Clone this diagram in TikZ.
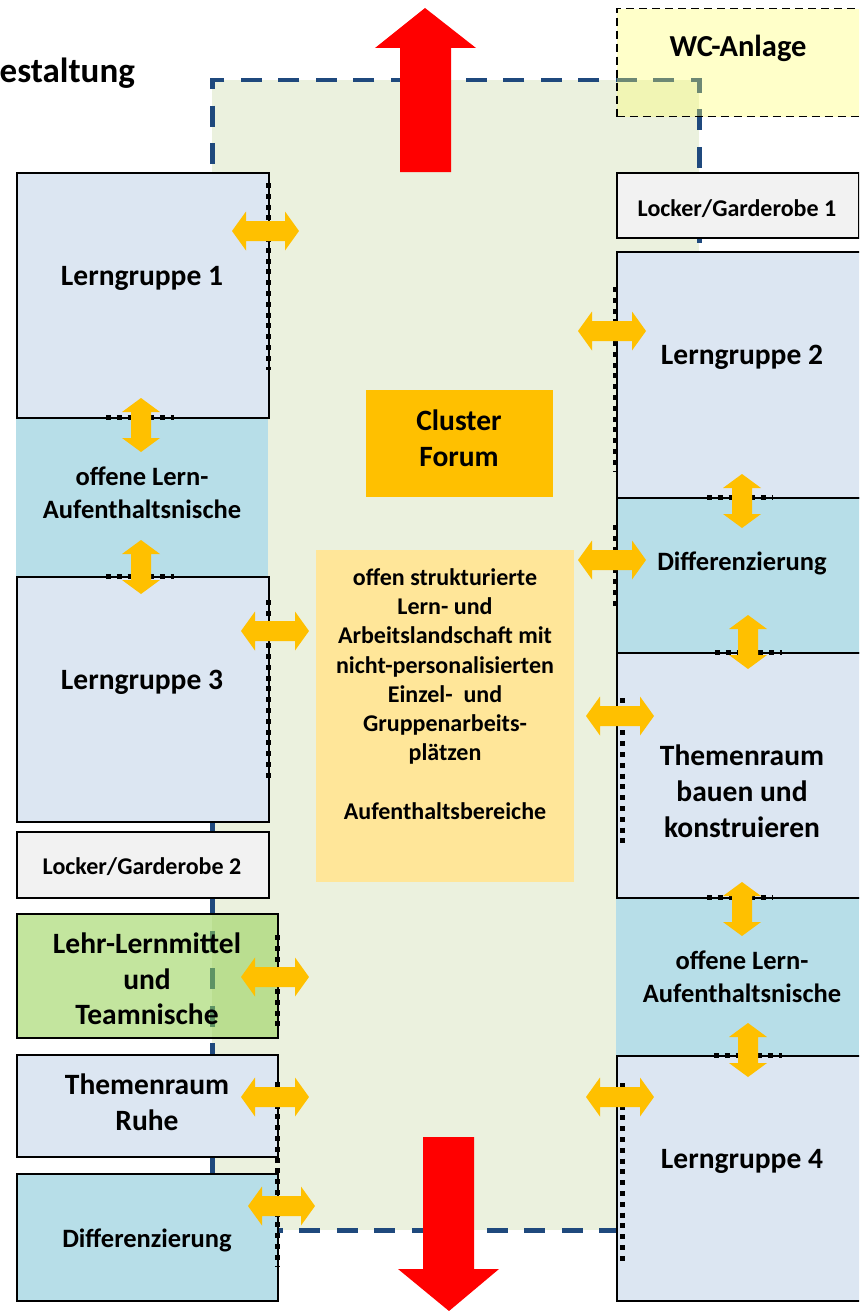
\documentclass[tikz,border=0pt]{standalone}
\usepackage{fontspec}
\setmainfont{Carlito}
\definecolor{bgGreen}{HTML}{EBF1DE}
\definecolor{dashBlue}{HTML}{1F497D}
\definecolor{roomBlue}{HTML}{DCE6F2}
\definecolor{nicheCyan}{HTML}{B7DEE8}
\definecolor{lockGrey}{HTML}{F2F2F2}
\definecolor{orangeA}{HTML}{FFC000}
\definecolor{centerY}{HTML}{FFE699}
\definecolor{teamGreen}{HTML}{92D050}
\definecolor{wcYellow}{HTML}{FFFF66}
\newcommand{\dHarrow}[3]{\fill[orangeA] (#1,#3) -- ({#1+14},{#3-19.5}) -- ({#1+14},{#3-10}) -- ({#2-14},{#3-10}) -- ({#2-14},{#3-19.5}) -- (#2,#3) -- ({#2-14},{#3+19.5}) -- ({#2-14},{#3+10}) -- ({#1+14},{#3+10}) -- ({#1+14},{#3+19.5}) -- cycle;}
\newcommand{\dVarrow}[3]{\fill[orangeA] (#1,#2) -- ({#1+19},{#2+14}) -- ({#1+10},{#2+14}) -- ({#1+10},{#3-14}) -- ({#1+19},{#3-14}) -- (#1,#3) -- ({#1-19},{#3-14}) -- ({#1-10},{#3-14}) -- ({#1-10},{#2+14}) -- ({#1-19},{#2+14}) -- cycle;}
\tikzset{
  box/.style={draw=black, line width=1.5pt, inner sep=0pt, anchor=north west},
  room/.style={box, fill=roomBlue},
  niche/.style={inner sep=0pt, anchor=north west, fill=nicheCyan},
  door/.style={draw=black, line width=5pt, dash pattern=on 5pt off 5.8pt},
  lbig/.style={font=\fontsize{29.5}{36}\selectfont\bfseries, align=center, inner sep=0pt},
  lmed/.style={font=\fontsize{26.5}{33}\selectfont\bfseries, align=center, inner sep=0pt},
  lsmall/.style={font=\fontsize{24}{29.2}\selectfont\bfseries, align=center, inner sep=0pt},
}
\begin{document}
\begin{tikzpicture}[x=1pt,y=-1pt]
\useasboundingbox (0,0) rectangle (859,1311);
\clip (0,0) rectangle (859,1311);
\fill[white] (0,0) rectangle (859,1311);
% cluster area
\node[fill=bgGreen, draw=dashBlue, line width=4.5pt, dash pattern=on 21pt off 16.5pt, dash phase=-12pt, inner sep=0pt, anchor=north west, minimum width=487pt, minimum height=1150pt] (area) at (210,78) {};
% left column
\node[niche, minimum width=252pt, minimum height=159pt] (nicheL) at (16,417) {};
\node[room, minimum width=252pt, minimum height=245pt] (lg1) at (16,172) {};
\node[room, minimum width=252pt, minimum height=245pt] (lg3) at (16,576) {};
\node[box, fill=lockGrey, minimum width=252pt, minimum height=66pt] (lock2) at (16,831) {};
\node[box, fill=teamGreen, fill opacity=0.55, minimum width=261pt, minimum height=124pt] (team) at (16,913) {};
\node[room, minimum width=261pt, minimum height=102pt] (ruhe) at (16,1054) {};
\node[box, fill=nicheCyan, minimum width=261pt, minimum height=127pt] (diffL) at (16,1173) {};
% right column
\node[box, draw=black, line width=1.5pt, dash pattern=on 8pt off 5pt, fill=wcYellow, fill opacity=0.35, minimum width=260pt, minimum height=108pt] (wc) at (616,8) {};
\node[box, fill=lockGrey, minimum width=242pt, minimum height=65pt] (lock1) at (616,172) {};
\node[niche, minimum width=243pt, minimum height=158pt] (nicheR) at (616,897) {};
\node[room, minimum width=250pt, minimum height=246pt] (lg2) at (616,251) {};
\node[box, fill=nicheCyan, minimum width=250pt, minimum height=155pt] (diffR) at (616,497) {};
\node[room, minimum width=250pt, minimum height=245pt] (themen) at (616,652) {};
\node[room, minimum width=250pt, minimum height=245pt] (lg4) at (616,1055) {};
% centre
\node[fill=orangeA, inner sep=0pt, anchor=north west, minimum width=187pt, minimum height=107pt] (forum) at (366,390) {};
\node[fill=centerY, inner sep=0pt, anchor=north west, minimum width=258pt, minimum height=332pt] (land) at (316,550) {};
% doors (dotted)
\draw[door] (268,183) -- (268,370);
\draw[door] (106,417) -- (174,417);
\draw[door] (106,576) -- (174,576);
\draw[door] (268,600) -- (268,783);
\draw[door] (277,935) -- (277,1027);
\draw[door] (277,1082) -- (277,1267);
\draw[door] (615,287) -- (615,472);
\draw[door] (615,525) -- (615,610);
\draw[door] (707,497) -- (773,497);
\draw[door] (715,652) -- (782,652);
\draw[door] (622,698) -- (622,847);
\draw[door] (707,897) -- (773,897);
\draw[door] (714,1055) -- (782,1055);
\draw[door] (622,1083) -- (622,1266);
% orange double arrows
\dHarrow{232}{299}{231}
\dHarrow{578}{646}{331}
\dHarrow{578}{646}{560}
\dHarrow{241}{309}{631}
\dHarrow{586}{654}{716}
\dHarrow{241}{309}{977}
\dHarrow{241}{309}{1097}
\dHarrow{248}{315}{1206}
\dHarrow{586}{654}{1097}
\dVarrow{141}{398}{452}
\dVarrow{141}{540}{594}
\dVarrow{742}{474}{528}
\dVarrow{748}{615}{669}
\dVarrow{742}{882}{936}
\dVarrow{748}{1023}{1077}
% red arrows
\fill[red] (425,8) -- (476,48) -- (451,48) -- (451,172) -- (400,172) -- (400,48) -- (375,48) -- cycle;
\fill[red] (449,1311) -- (499,1269) -- (474,1269) -- (474,1137) -- (423,1137) -- (423,1269) -- (398,1269) -- cycle;
% labels
\node[font=\fontsize{35}{40}\selectfont\bfseries, inner sep=0pt, anchor=east] (title) at (135,73) {estaltung};
\node[lbig, font=\fontsize{30.5}{36}\selectfont\bfseries] (twc) at (738,48) {WC-Anlage};
\node[lsmall] (tlock1) at (737,209) {Locker/Garderobe 1};
\node[lbig] (tlg1) at (142,278) {Lerngruppe 1};
\node[lbig] (tlg2) at (742,357) {Lerngruppe 2};
\node[lbig] (tforum) at (459,438) {Cluster\\Forum};
\node[lmed] (tnicheL) at (142,493) {offene Lern-\\Aufenthaltsnische};
\node[lmed] (tdiffR) at (742,563) {Differenzierung};
\node[lbig] (tlg3) at (142,682) {Lerngruppe 3};
\node[lbig] (tthemen) at (742,791) {Themenraum\\bauen und\\konstruieren};
\node[lsmall] (tland) at (445,694) {offen strukturierte\\Lern- und\\Arbeitslandschaft mit\\nicht-personalisierten\\Einzel-~ und\\Gruppenarbeits-\\plätzen\\[29.2pt]Aufenthaltsbereiche};
\node[lsmall] (tlock2) at (142,867) {Locker/Garderobe 2};
\node[lbig, font=\fontsize{29.5}{35.5}\selectfont\bfseries] (tteam) at (147,979) {Lehr-Lernmittel\\und\\Teamnische};
\node[lmed] (tnicheR) at (742,977) {offene Lern-\\Aufenthaltsnische};
\node[lbig] (truhe) at (147,1102) {Themenraum\\Ruhe};
\node[lbig] (tlg4) at (742,1161) {Lerngruppe 4};
\node[lmed] (tdiffL) at (147,1240) {Differenzierung};
\end{tikzpicture}
\end{document}
